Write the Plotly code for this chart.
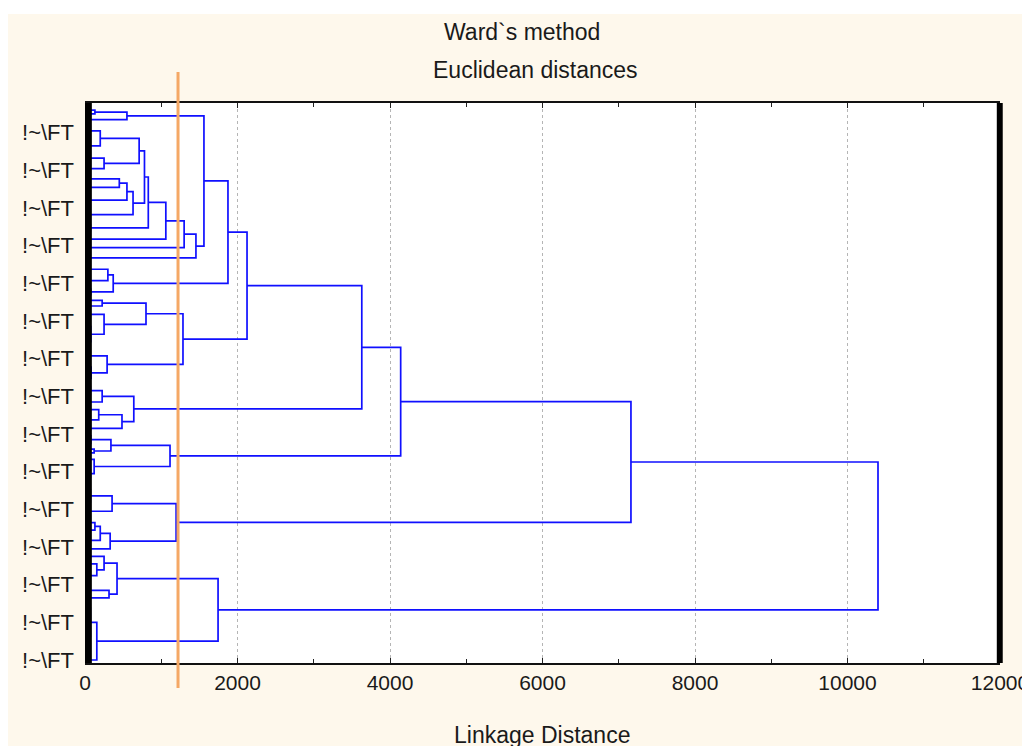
import plotly.graph_objects as go

# ---------------- data ----------------
# Linkage distance at which leaf i and leaf i+1 (in display order) are joined.
# (An ordered dendrogram is fully defined by these adjacent-leaf merge heights.)
gaps_part1 = [130, 550, 40, 1560, 20, 45, 15, 200, 25, 50, 12, 710, 30, 18, 250,
              35, 780, 22, 55, 450, 40, 550, 30, 65, 20]
gaps_part2 = [35, 630, 50, 25, 830, 40, 70, 1060, 30, 55, 1300, 45, 1455, 35, 60,
              1875, 25, 60, 300, 30, 50, 370, 40, 75, 2125]
gaps_part3 = [60, 225, 800, 30, 55, 250, 20, 45, 30, 75, 25, 50, 35, 1285, 40,
              65, 290, 20, 50, 80, 35, 60, 3630, 45, 70]
gaps_part4 = [30, 225, 55, 640, 60, 180, 35, 50, 485, 70, 4140, 40, 75, 30, 340,
              120, 1115, 50, 25, 120, 30, 70, 45, 7160, 35]
gaps_part5 = [55, 20, 45, 70, 355, 40, 65, 30, 1195, 60, 130, 40, 200, 35, 55,
              330, 45, 10400, 50, 250, 40, 155, 30, 60, 45]
gaps_part6 = [20, 420, 35, 315, 50, 1745, 20, 30, 70, 15, 10, 40, 25, 35, 60,
              30, 45, 20, 50, 35, 155]

leaf_label = "!~\\FT"
labelled_leaves = [6, 16, 26, 36, 46, 56, 66, 76, 86, 96, 106, 116, 126, 136, 146]
x_tick_values = [0, 2000, 4000, 6000, 8000, 10000, 12000]
x_tick_labels = ["0", "2000", "4000", "6000", "8000", "10000", "12000"]
cut_distance = 1220
x_max = 12000

title_line1 = "Ward`s method"
title_line2 = "Euclidean distances"
x_title = "Linkage Distance"

# ---------------- build dendrogram ----------------
gap_heights = gaps_part1 + gaps_part2 + gaps_part3 + gaps_part4 + gaps_part5 + gaps_part6
n_leaves = len(gap_heights) + 1

xs, ys = [], []


def build(lo, hi):
    if lo == hi:
        return 0.0, float(lo)
    k = max(range(lo, hi), key=lambda i: gap_heights[i])
    h = gap_heights[k]
    hl, yl = build(lo, k)
    hr, yr = build(k + 1, hi)
    xs.extend([hl, h, h, hr, None])
    ys.extend([yl, yl, yr, yr, None])
    return h, (yl + yr) / 2.0


build(0, n_leaves - 1)

fig = go.Figure()
fig.add_trace(go.Scatter(x=xs, y=ys, mode="lines",
                         line=dict(color="#1010FF", width=1.7),
                         hoverinfo="skip", showlegend=False))

# ---------------- layout ----------------
W, H = 1030, 746
OFF = 8  # page offset of the figure (body margin)
ml, mt = 85 - OFF, 103 - OFF
mr = W - (1000 - OFF)
mb = H - (663 - OFF)
pw, ph = W - ml - mr, H - mt - mb


def px(xpage):
    return (xpage - OFF - ml) / pw


def py(ypage):
    return (H - mb - (ypage - OFF)) / ph


font_family = "Liberation Sans, Arial, sans-serif"
txt_color = "#1a1a1a"
fs = 23
tick_fs = 21

fig.update_layout(
    width=W, height=H, autosize=False,
    margin=dict(l=ml, r=mr, t=mt, b=mb, pad=0, autoexpand=False),
    paper_bgcolor="#FEF8EC",
    plot_bgcolor="white",
    font=dict(family=font_family, size=fs, color=txt_color),
    xaxis=dict(range=[0, x_max], tickvals=x_tick_values, ticktext=x_tick_labels,
               ticks="inside", ticklen=5, automargin=False,
               tickcolor="#222", showline=True, linecolor="#111", linewidth=2,
               mirror="allticks", showgrid=True, gridcolor="#b5b5b5", griddash="dot",
               gridwidth=1, zeroline=False,
               minor=dict(dtick=1000, ticks="inside", ticklen=4, tickcolor="#222",
                          showgrid=False),
               tickfont=dict(size=tick_fs, color=txt_color)),
    yaxis=dict(range=[n_leaves - 1 + 0.8, -1.9], tickvals=labelled_leaves,
               ticktext=[leaf_label] * len(labelled_leaves), showgrid=False,
               zeroline=False, showline=False, ticks="", ticklabelstandoff=10,
               automargin=False,
               tickfont=dict(size=fs - 1, color=txt_color)),
    shapes=[
        # white strip above the cream panel
        dict(type="rect", xref="paper", yref="paper", x0=px(0), x1=px(W + 20),
             y0=py(14), y1=py(0), fillcolor="white", line_width=0, layer="below"),
        # thick left bar
        dict(type="rect", xref="x", yref="paper", x0=0, x1=90, y0=0, y1=1,
             fillcolor="black", line_width=0),
        # thick right bar
        dict(type="rect", xref="paper", yref="paper", x0=0.9965, x1=1.003, y0=0, y1=1,
             fillcolor="black", line_width=0),
        # cut line
        dict(type="line", xref="paper", yref="paper", x0=cut_distance / x_max,
             x1=cut_distance / x_max, y0=py(688), y1=py(72),
             line=dict(color="#F5A865", width=3)),
    ],
    annotations=[
        dict(text=title_line1, xref="paper", yref="paper", x=px(522), y=py(32),
             showarrow=False, xanchor="center", yanchor="middle",
             font=dict(size=fs, color=txt_color)),
        dict(text=title_line2, xref="paper", yref="paper", x=px(535), y=py(70),
             showarrow=False, xanchor="center", yanchor="middle",
             font=dict(size=fs, color=txt_color)),
        dict(text=x_title, xref="paper", yref="paper", x=px(542), y=py(735),
             showarrow=False, xanchor="center", yanchor="middle",
             font=dict(size=fs, color=txt_color)),
    ],
)

fig.write_html("out.html")
